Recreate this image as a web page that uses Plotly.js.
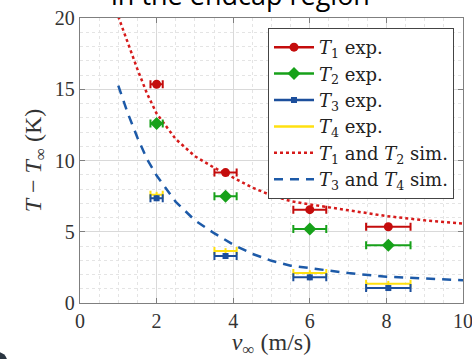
<!DOCTYPE html>
<html>
<head>
<meta charset="utf-8">
<script src="https://cdn.plot.ly/plotly-3.0.1.min.js"></script>
<style>html,body{margin:0;padding:0;background:#fff;}#chart{width:472px;height:359px;}</style>
</head>
<body>
<div id="chart"></div>
<script>
// Experimental data
const velocity = [2.0, 3.8, 6.0, 8.05];
const velocityErr = [0.16, 0.29, 0.43, 0.58];
const tempErr = [0.2, 0.2, 0.2, 0.2];
const T1exp = [15.35, 9.15, 6.55, 5.35];
const T2exp = [12.6, 7.5, 5.2, 4.05];
const T3exp = [7.35, 3.3, 1.8, 1.05];
const T4exp = [7.6, 3.65, 2.1, 1.35];

// Simulation curves
const simV = [1, 1.25, 1.5, 1.75, 2, 2.5, 3, 3.5, 4, 4.5, 5, 5.5, 6, 7, 8, 9, 10];
const simT12 = [20.1, 18.2, 16.4, 14.7, 13.3, 11.5, 10.3, 9.5, 8.8, 8.1, 7.55, 7.15, 6.92, 6.5, 6.1, 5.8, 5.58];
const simT34 = [15.25, 13.3, 11.6, 10.1, 8.95, 7.1, 5.8, 4.9, 4.1, 3.45, 2.96, 2.62, 2.45, 2.1, 1.85, 1.7, 1.6];

const labels = ['<i>T</i><sub>1</sub> exp.', '<i>T</i><sub>2</sub> exp.', '<i>T</i><sub>3</sub> exp.', '<i>T</i><sub>4</sub> exp.',
  '<i>T</i><sub>1</sub> and <i>T</i><sub>2</sub> sim.', '<i>T</i><sub>3</sub> and <i>T</i><sub>4</sub> sim.'];

const cRed = '#c40c0c', cGreen = '#17a11a', cBlue = '#1c4f9c', cYellow = '#ffe010';
const cSimRed = '#d61a1a', cSimBlue = '#1d5aa8';

function expTrace(y, name, color, symbol, size) {
  return {
    x: velocity, y: y, type: 'scatter', mode: 'markers', name: name, showlegend: false,
    marker: {color: color, symbol: symbol, size: size},
    error_x: {type: 'data', array: velocityErr, visible: true, color: color, thickness: 2, width: 4},
    error_y: {type: 'data', array: tempErr, visible: true, color: color, thickness: 2, width: 0}
  };
}
function legendTrace(name, color, symbol, size) {
  return {x: [null], y: [null], type: 'scatter', mode: 'lines+markers', name: name,
    line: {color: color, width: 2.5}, marker: {color: color, symbol: symbol, size: size}};
}

const traces = [
  {x: simV, y: simT12, type: 'scatter', mode: 'lines', name: labels[4], showlegend: false,
   line: {color: cSimRed, width: 2.5, dash: 'dot'}},
  {x: simV, y: simT34, type: 'scatter', mode: 'lines', name: labels[5], showlegend: false,
   line: {color: cSimBlue, width: 2.5, dash: '9px,7px'}},
  expTrace(T4exp, labels[3], cYellow, 'line-ew', 1),
  expTrace(T3exp, labels[2], cBlue, 'square', 6),
  expTrace(T2exp, labels[1], cGreen, 'diamond', 10),
  expTrace(T1exp, labels[0], cRed, 'circle', 9),
  legendTrace(labels[0], cRed, 'circle', 9),
  legendTrace(labels[1], cGreen, 'diamond', 10),
  legendTrace(labels[2], cBlue, 'square', 6),
  legendTrace(labels[3], cYellow, 'line-ew', 1),
  {x: [null], y: [null], type: 'scatter', mode: 'lines', name: labels[4], line: {color: cSimRed, width: 2.5, dash: 'dot'}},
  {x: [null], y: [null], type: 'scatter', mode: 'lines', name: labels[5], line: {color: cSimBlue, width: 2.5, dash: '9px,7px'}}
];

const serif = 'Liberation Serif, DejaVu Serif, serif';
const axisCommon = {
  showline: true, linecolor: '#7f7f7f', linewidth: 1.2, mirror: 'ticks',
  ticks: 'inside', ticklen: 5, tickcolor: '#7f7f7f',
  showgrid: true, gridcolor: '#d9d9d9', gridwidth: 1, zeroline: false,
  ticklabeloverflow: 'allow',
  tickfont: {family: serif, size: 20, color: '#333'}
};

const layout = {
  width: 472, height: 359,
  margin: {l: 80, r: 9, t: 18, b: 56},
  paper_bgcolor: '#fff', plot_bgcolor: '#fff',
  showlegend: true,
  legend: {x: 0.9765, y: 0.965, xanchor: 'right', yanchor: 'top',
    bgcolor: '#fff', bordercolor: '#444', borderwidth: 1, itemwidth: 40,
    font: {family: 'DejaVu Serif, serif', size: 18, color: '#222'}, tracegroupgap: 0},
  xaxis: Object.assign({}, axisCommon, {
    range: [0, 10], dtick: 2, tick0: 0,
    minor: {dtick: 0.5, showgrid: true, gridcolor: '#e4e4e4', griddash: 'dot', gridwidth: 1},
    title: {text: '<i>v</i><sub>∞</sub> (m/s)', font: {family: serif, size: 24, color: '#333'}, standoff: 0}
  }),
  yaxis: Object.assign({}, axisCommon, {
    range: [0, 20], dtick: 5, tick0: 0,
    minor: {dtick: 1, showgrid: true, gridcolor: '#e4e4e4', griddash: 'dot', gridwidth: 1},
    title: {text: '<i>T</i> − <i>T</i><sub>∞</sub> (K)', font: {family: serif, size: 24, color: '#333'}, standoff: 6}
  }),
  annotations: [{
    text: 'in the endcap region', xref: 'paper', yref: 'paper', x: 0.42, y: 1.0, yshift: 3,
    xanchor: 'center', yanchor: 'bottom', showarrow: false,
    font: {family: 'Open Sans, sans-serif', size: 27, color: '#000'}
  }],
  shapes: [{type: 'circle', xref: 'paper', yref: 'paper', x0: -0.25, x1: -0.19, y0: -0.24, y1: -0.17,
    fillcolor: '#2a3540', line: {width: 0}}]
};

Plotly.newPlot('chart', traces, layout, {displayModeBar: false, staticPlot: true});
</script>
</body>
</html>
